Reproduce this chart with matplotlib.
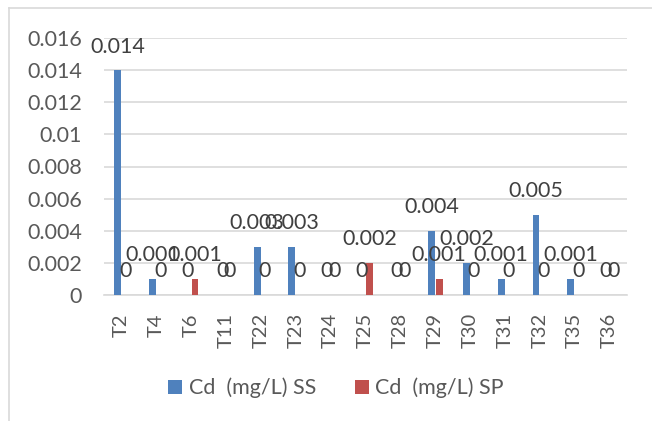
import matplotlib
matplotlib.use("Agg")
import matplotlib.pyplot as plt
from matplotlib.lines import Line2D
from matplotlib.ticker import FuncFormatter, MultipleLocator
import numpy as np

categories = ["T2", "T4", "T6", "T11", "T22", "T23", "T24", "T25", "T28",
              "T29", "T30", "T31", "T32", "T35", "T36"]
ss_values = [0.014, 0.001, 0, 0, 0.003, 0.003, 0, 0, 0, 0.004, 0.002, 0.001, 0.005, 0.001, 0]
sp_values = [0, 0, 0.001, 0, 0, 0, 0, 0.002, 0, 0.001, 0, 0, 0, 0, 0]
series_names = ["Cd  (mg/L) SS", "Cd  (mg/L) SP"]
colors = ["#4f81bd", "#c0504d"]

plt.rcParams['font.family'] = ['Lato', 'DejaVu Sans']

W, H = 652, 421
fig = plt.figure(figsize=(W / 100, H / 100), dpi=100)
ax = fig.add_axes([104 / W, (H - 295) / H, (627 - 104) / W, (295 - 38) / H])

x = np.arange(len(categories))
bw = 0.2
off = 0.11
b1 = ax.bar(x - off, ss_values, bw, color=colors[0], label=series_names[0], zorder=3)
b2 = ax.bar(x + off, sp_values, bw, color=colors[1], label=series_names[1], zorder=3)

def fmt(v):
    if v == 0:
        return "0"
    return ("%.3f" % v).rstrip("0")

for xs, vals in ((x - off, ss_values), (x + off, sp_values)):
    for xi, v in zip(xs, vals):
        ax.annotate(fmt(v), (xi, v), xytext=(0, 17), textcoords="offset points",
                    ha="center", va="center", fontsize=15.5, color="#404040", zorder=4)

ax.set_xlim(-0.5, len(categories) - 0.5)
ax.set_ylim(0, 0.016)
ax.yaxis.set_major_locator(MultipleLocator(0.002))
ax.yaxis.set_major_formatter(FuncFormatter(lambda v, p: fmt(round(v, 3))))
ax.set_xticks(x)
ax.set_xticklabels(categories, rotation=90)
ax.tick_params(axis="x", length=0, pad=13, labelsize=14.5, labelcolor="#595959")
ax.tick_params(axis="y", length=0, pad=16, labelsize=15.5, labelcolor="#595959")
ax.grid(axis="y", color="#d9d9d9", linewidth=1.2, zorder=0)
for s in ("top", "right", "left"):
    ax.spines[s].set_visible(False)
ax.spines["bottom"].set_color("#d9d9d9")
ax.spines["bottom"].set_linewidth(1.2)

# outer chart border (top and left visible)
fig.add_artist(Line2D([9 / W, 1], [1 - 8 / H, 1 - 8 / H], color="#d9d9d9", lw=1.2))
fig.add_artist(Line2D([9 / W, 9 / W], [0, 1 - 8 / H], color="#d9d9d9", lw=1.2))

fig.legend(handles=[b1, b2], loc="center", bbox_to_anchor=(336 / W, 1 - 388 / H),
           ncol=2, frameon=False, fontsize=15.5, labelcolor="#595959",
           handlelength=0.65, handleheight=0.65, handletextpad=0.3, columnspacing=1.8)

fig.savefig("out.png", dpi=100)
